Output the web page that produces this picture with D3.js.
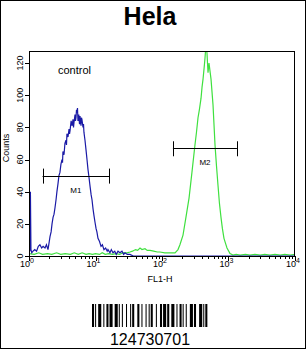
<!DOCTYPE html>
<html>
<head>
<meta charset="utf-8">
<script src="https://cdn.jsdelivr.net/npm/d3@7"></script>
<style>
  body { margin: 0; background: #fff; }
  svg { display: block; font-family: "Liberation Sans", Arial, sans-serif; }
</style>
</head>
<body>
<svg id="chart" width="306" height="349"></svg>
<script>
// sample name and marker gates
var title = "Hela";
var sampleId = "124730701";
var decades = [1, 10, 100, 1000, 10000];
var countTicks = [0, 20, 40, 60, 80, 100, 120];
var gates = [
  { name: "M1", from: 1.6, to: 16, level: 50 },
  { name: "M2", from: 146, to: 1340, level: 67 }
];

// control histogram (blue): [FL1-H, counts]
var controlHist = [
  [1.0, 0], [1.01, 51], [1.03, 3], [1.05, 40], [1.07, 4], [1.1, 2], [1.15, 3],
  [1.22, 4], [1.3, 3], [1.38, 6], [1.46, 7], [1.55, 5], [1.63, 6], [1.74, 5],
  [1.83, 7], [1.93, 4], [2.0, 8], [2.07, 12], [2.15, 15], [2.22, 20], [2.3, 24],
  [2.38, 26], [2.46, 30], [2.55, 35], [2.63, 40], [2.73, 45], [2.82, 50], [2.92, 52],
  [3.02, 57], [3.13, 60], [3.19, 58], [3.24, 65], [3.36, 63], [3.47, 70], [3.6, 72],
  [3.66, 69], [3.72, 76], [3.86, 74], [4.0, 79], [4.07, 76], [4.14, 78], [4.3, 84],
  [4.45, 81], [4.59, 85], [4.67, 80], [4.75, 83], [4.92, 88], [5.0, 84], [5.09, 86],
  [5.18, 91], [5.27, 89], [5.36, 92], [5.45, 84], [5.6, 88], [5.75, 82], [5.85, 87],
  [6.05, 81], [6.15, 86], [6.25, 85], [6.49, 80], [6.6, 82], [6.7, 77], [6.95, 72],
  [7.2, 66], [7.45, 60], [7.7, 54], [7.98, 49], [8.3, 43], [8.6, 38], [8.86, 35],
  [9.2, 29], [9.5, 25], [9.83, 21], [10.2, 17], [10.5, 15], [10.9, 11], [11.5, 9],
  [12.1, 6], [12.7, 7], [13.4, 4], [14.2, 5], [15.0, 3], [15.4, 4], [16.5, 2],
  [17.3, 4], [18.3, 2], [19.5, 3], [20.5, 1], [21.8, 3], [23.3, 2], [25.0, 3],
  [26.5, 1], [27.8, 2], [30, 1], [33, 1], [37, 0], [10000, 0]
];

// stained histogram (green): [FL1-H, counts]
var stainedHist = [
  [1.0, 1.5], [1.2, 1], [1.4, 2], [1.6, 1], [1.9, 1.5], [2.2, 1], [2.6, 2],
  [3.0, 1], [3.5, 1.5], [4.2, 1], [4.8, 2], [5.5, 1], [6.3, 2], [7.2, 1],
  [8.0, 1.5], [9.0, 1], [10, 1.5], [11.5, 1], [12.6, 2], [14, 1], [15.8, 1.5],
  [18, 1], [20, 1.5], [23, 1], [26, 2], [30, 2], [33, 2.5], [36, 3], [40, 4],
  [43, 3.5], [46.7, 5], [50, 4], [55.5, 4.5], [60, 3.5], [66, 3.5], [75, 3],
  [85, 2.5], [93, 2.5], [110, 2], [132, 2], [157, 2], [174, 4], [186, 7],
  [207, 13], [229, 24], [255, 36], [282, 52], [313, 69], [330, 77], [348, 86],
  [365, 91], [386, 98], [400, 105], [414, 110], [430, 117], [443, 123], [459, 132],
  [475, 126], [492, 114], [509, 120], [546, 110], [585, 94], [627, 69], [660, 56],
  [695, 44], [730, 33], [771, 24], [810, 17], [855, 11], [900, 8], [949, 5],
  [1054, 1.5], [1169, 0.6], [1300, 1], [1500, 0.5], [1800, 1], [2100, 0.5],
  [2500, 1], [3000, 0.5], [3500, 1], [4200, 0.5], [5000, 1], [6000, 0.5],
  [7000, 1], [8500, 0.5], [10000, 1]
];

// barcode bar/space widths in modules, alternating bar then space
var barcode = "211232" + "122132" + "311213" + "131123" + "221312" +
  "112313" + "213122" + "321221" + "121331" + "2331112";

var svg = d3.select("#chart");
var W = 306, H = 349;
var plotL = 29, plotR = 295, plotT = 51, plotB = 256;

var x = d3.scaleLog().domain([1, 10000]).range([plotL, plotR]);
var y = d3.scaleLinear().domain([0, 127.5]).range([plotB, plotT]);

// outer frame
svg.append("rect")
  .attr("x", 0.5).attr("y", 0.5)
  .attr("width", W - 1).attr("height", H - 1)
  .attr("fill", "none").attr("stroke", "#000");

svg.append("text")
  .attr("x", 150).attr("y", 25)
  .attr("text-anchor", "middle")
  .attr("font-size", 25).attr("font-weight", "bold")
  .text(title);

svg.append("clipPath").attr("id", "plotclip")
  .append("rect")
  .attr("x", plotL).attr("y", plotT)
  .attr("width", plotR - plotL).attr("height", plotB - plotT);

var line = d3.line()
  .x(function(d) { return x(d[0]); })
  .y(function(d) { return y(d[1]); });

var plot = svg.append("g").attr("clip-path", "url(#plotclip)");

plot.append("path")
  .datum(stainedHist)
  .attr("d", line)
  .attr("fill", "none")
  .attr("stroke", "#3fe03f")
  .attr("stroke-width", 1.2);

plot.append("path")
  .datum(controlHist)
  .attr("d", line)
  .attr("fill", "none")
  .attr("stroke", "#1a1aa6")
  .attr("stroke-width", 1.2);

// plot box
svg.append("rect")
  .attr("x", plotL + 0.5).attr("y", plotT + 0.5)
  .attr("width", plotR - plotL - 1).attr("height", plotB - plotT)
  .attr("fill", "none").attr("stroke", "#000");

// y axis
var yAxis = svg.append("g");
yAxis.selectAll("line")
  .data(countTicks)
  .enter().append("line")
  .attr("x1", plotL - 4).attr("x2", plotL)
  .attr("y1", function(d) { return Math.round(y(d)) + 0.5; })
  .attr("y2", function(d) { return Math.round(y(d)) + 0.5; })
  .attr("stroke", "#000");
yAxis.selectAll("text")
  .data(countTicks)
  .enter().append("text")
  .attr("transform", function(d) { return "translate(23," + y(d) + ") rotate(-90)"; })
  .attr("text-anchor", "middle")
  .attr("font-size", 9)
  .text(function(d) { return d; });
svg.append("text")
  .attr("transform", "translate(9,148) rotate(-90)")
  .attr("text-anchor", "middle")
  .attr("font-size", 9)
  .text("Counts");

// x axis: decade ticks plus log minor ticks
var minors = [];
decades.slice(0, -1).forEach(function(d) {
  for (var k = 2; k < 10; k++) minors.push(d * k);
});
var xAxis = svg.append("g");
xAxis.selectAll("line.minor")
  .data(minors)
  .enter().append("line")
  .attr("class", "minor")
  .attr("x1", function(d) { return Math.round(x(d)) + 0.5; })
  .attr("x2", function(d) { return Math.round(x(d)) + 0.5; })
  .attr("y1", plotB).attr("y2", plotB + 3)
  .attr("stroke", "#000");
xAxis.selectAll("line.major")
  .data(decades)
  .enter().append("line")
  .attr("class", "major")
  .attr("x1", function(d) { return Math.round(x(d)) + 0.5; })
  .attr("x2", function(d) { return Math.round(x(d)) + 0.5; })
  .attr("y1", plotB).attr("y2", plotB + 5)
  .attr("stroke", "#000");
var lbl = xAxis.selectAll("text")
  .data(decades)
  .enter().append("text")
  .attr("x", function(d) { return x(d) - 2; })
  .attr("y", 267)
  .attr("text-anchor", "middle")
  .attr("font-size", 9);
lbl.append("tspan").text("10");
lbl.append("tspan")
  .attr("dy", -4).attr("font-size", 7)
  .text(function(d) { return Math.round(Math.log10(d)); });
svg.append("text")
  .attr("x", 160).attr("y", 282)
  .attr("text-anchor", "middle")
  .attr("font-size", 9)
  .text("FL1-H");

// gate markers
var g = svg.append("g").selectAll("g")
  .data(gates)
  .enter().append("g");
g.append("line")
  .attr("x1", function(d) { return x(d.from); })
  .attr("x2", function(d) { return x(d.to); })
  .attr("y1", function(d) { return Math.round(y(d.level)) + 0.5; })
  .attr("y2", function(d) { return Math.round(y(d.level)) + 0.5; })
  .attr("stroke", "#000");
g.append("line")
  .attr("x1", function(d) { return Math.round(x(d.from)) + 0.5; })
  .attr("x2", function(d) { return Math.round(x(d.from)) + 0.5; })
  .attr("y1", function(d) { return y(d.level) - 7; })
  .attr("y2", function(d) { return y(d.level) + 8; })
  .attr("stroke", "#000");
g.append("line")
  .attr("x1", function(d) { return Math.round(x(d.to)) + 0.5; })
  .attr("x2", function(d) { return Math.round(x(d.to)) + 0.5; })
  .attr("y1", function(d) { return y(d.level) - 7; })
  .attr("y2", function(d) { return y(d.level) + 8; })
  .attr("stroke", "#000");
g.append("text")
  .attr("x", function(d) { return (x(d.from) + x(d.to)) / 2; })
  .attr("y", function(d) { return y(d.level) + 17; })
  .attr("text-anchor", "middle")
  .attr("font-size", 8)
  .text(function(d) { return d.name; });

svg.append("text")
  .attr("x", 58).attr("y", 74)
  .attr("font-size", 11)
  .text("control");

// barcode
var bx = 92, bw = 1.03;
var widths = barcode.split("").map(Number);
var pos = 0, bars = [];
widths.forEach(function(w, i) {
  if (i % 2 === 0) bars.push({ x: pos, w: w });
  pos += w;
});
svg.append("g").selectAll("rect")
  .data(bars)
  .enter().append("rect")
  .attr("x", function(d) { return bx + d.x * bw; })
  .attr("y", 304)
  .attr("width", function(d) { return d.w * bw; })
  .attr("height", 23)
  .attr("fill", "#000");
svg.append("text")
  .attr("x", 150).attr("y", 345)
  .attr("text-anchor", "middle")
  .attr("font-size", 16)
  .text(sampleId);
</script>
</body>
</html>
